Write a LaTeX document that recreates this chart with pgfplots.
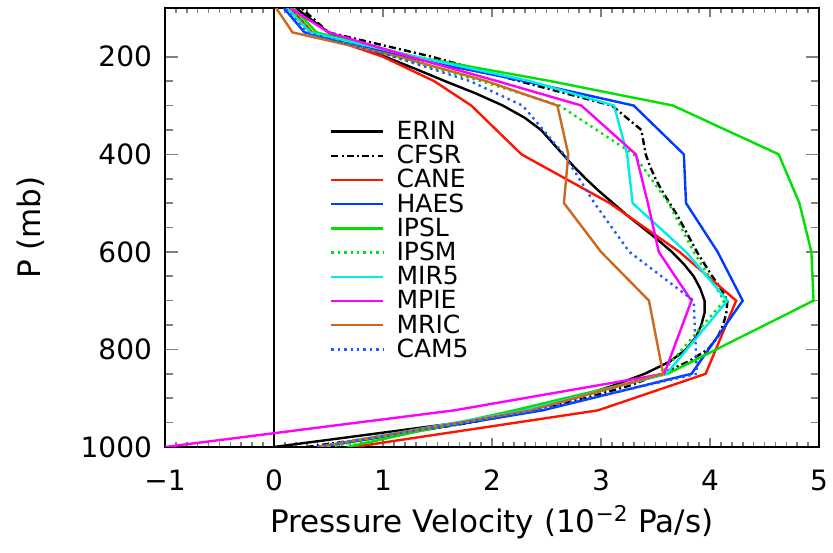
\documentclass[border=0pt]{standalone}
\usepackage{fontspec}
\setmainfont{DejaVu Sans}
\usepackage{pgfplots}
\pgfplotsset{compat=1.18}

\definecolor{cane}{RGB}{255,20,0}
\definecolor{haes}{RGB}{0,60,255}
\definecolor{ipsl}{RGB}{0,225,0}
\definecolor{mir5}{RGB}{0,235,235}
\definecolor{mpie}{RGB}{255,0,255}
\definecolor{mric}{RGB}{205,105,30}
\definecolor{cam5}{RGB}{30,90,255}

\begin{document}
\begin{tikzpicture}
\begin{axis}[
  scale only axis,
  width=327pt, height=219.5pt,
  xmin=-1, xmax=5, ymin=100, ymax=1000,
  y dir=reverse,
  xtick={-1,0,1,2,3,4,5},
  xticklabels={−1,0,1,2,3,4,5},
  ytick={200,400,600,800,1000},
  yticklabels={200,400,600,800,1000},
  minor x tick num=9, minor y tick num=3,
  tick align=inside,
  xtick style={/pgfplots/major tick length=4.5pt,/pgfplots/minor tick length=2.5pt,line width=0.8pt},
  ytick style={/pgfplots/major tick length=6.5pt,/pgfplots/minor tick length=4pt,line width=0.8pt},
  axis line style={line width=1pt},
  ticklabel style={font=\fontsize{14}{14}\selectfont},
  xticklabel style={yshift=-8pt},
  yticklabel style={xshift=-3pt},
  xlabel={Pressure Velocity (10\textsuperscript{−2} Pa/s)},
  ylabel={P (mb)},
  label style={font=\fontsize{15.5}{15.5}\selectfont},
  xlabel style={at={(axis description cs:0.5,-0.171)}, anchor=center},
  ylabel style={at={(axis description cs:-0.206,0.5)}, anchor=center},
  legend image code/.code={\draw[#1] (0pt,0pt) -- (26pt,0pt);},
  legend style={draw=none, fill=none, inner sep=0pt,
    at={(axis description cs:0.252,0.747)}, anchor=north west,
    font=\fontsize{12.5}{12.5}\selectfont,
    nodes={inner sep=1pt, text height=9pt, text depth=1.1pt},
    /tikz/every odd column/.append style={column sep=5pt}},
  legend cell align=left,
  every axis plot/.append style={line width=1.2pt},
]
\addplot[black, line width=0.9pt, forget plot] coordinates {(0,100) (0,1000)};

% ERIN
\addplot[black] coordinates {
(0.00,1000) (0.85,975) (1.70,950) (2.30,925) (2.75,900) (3.10,875) (3.40,850)
(3.63,825) (3.78,800) (3.87,775) (3.92,750) (3.95,725) (3.95,700) (3.91,675)
(3.85,650) (3.76,625) (3.65,600) (3.52,575) (3.38,550) (3.24,525) (3.11,500)
(2.98,475) (2.86,450) (2.75,425) (2.65,400) (2.55,375) (2.45,350) (2.30,325)
(2.10,300) (1.85,275) (1.57,250) (1.30,225) (1.02,200) (0.75,175) (0.50,150)
(0.35,125) (0.20,100)};
% CFSR
\addplot[black, dash pattern=on 3.5pt off 1.6pt on 1pt off 1.6pt] coordinates {
(0.30,1000) (1.10,975) (1.80,950) (2.40,925) (2.85,900) (3.25,875) (3.55,850)
(3.80,825) (3.98,800) (4.07,775) (4.12,750) (4.15,725) (4.16,700) (4.10,675)
(4.02,650) (3.95,625) (3.88,600) (3.82,575) (3.76,550) (3.70,525) (3.63,500)
(3.56,475) (3.50,450) (3.45,425) (3.41,400) (3.37,350) (3.10,300) (2.25,250)
(1.45,200) (0.50,150) (0.25,100)};
% CANE
\addplot[cane] coordinates {
(0.73,1000) (2.97,925) (3.96,850) (4.24,700) (3.72,600) (3.08,500) (2.27,400)
(1.81,300) (1.47,250) (1.00,200) (0.35,150) (0.15,100)};
% HAES
\addplot[haes] coordinates {
(0.43,1000) (2.46,925) (3.83,850) (4.30,700) (4.07,600) (3.78,500) (3.76,400)
(3.30,300) (2.30,250) (1.20,200) (0.28,150) (0.09,100)};
% IPSL
\addplot[ipsl] coordinates {
(0.67,1000) (2.20,925) (3.61,850) (4.95,700) (4.93,600) (4.82,500) (4.63,400)
(3.66,300) (2.54,250) (1.30,200) (0.39,150) (0.18,100)};
% IPSM
\addplot[ipsl, dash pattern=on 1.2pt off 2pt] coordinates {
(0.50,1000) (2.35,925) (3.55,850) (4.13,700) (3.85,600) (3.62,500) (3.30,400)
(2.62,300) (1.90,250) (1.10,200) (0.35,150) (0.15,100)};
% MIR5
\addplot[mir5] coordinates {
(0.40,1000) (2.30,925) (3.60,850) (4.16,700) (3.78,600) (3.29,500) (3.24,400)
(3.12,300) (2.35,250) (1.30,200) (0.33,150) (0.12,100)};
% MPIE
\addplot[mpie] coordinates {
(-1.00,1000) (1.65,925) (3.58,850) (3.83,700) (3.53,600) (3.43,500) (3.32,400)
(2.82,300) (2.05,250) (1.25,200) (0.50,150) (0.15,100)};
% MRIC
\addplot[mric] coordinates {
(0.40,1000) (2.35,925) (3.57,850) (3.44,700) (3.00,600) (2.66,500) (2.70,400)
(2.60,300) (1.95,250) (1.15,200) (0.17,150) (0.02,100)};
% CAM5
\addplot[cam5, dash pattern=on 1.2pt off 2pt] coordinates {
(0.40,1000) (2.40,925) (3.88,850) (3.85,700) (3.26,600) (2.94,500) (2.66,400)
(2.28,300) (1.80,250) (1.10,200) (0.30,150) (0.10,100)};

\legend{ERIN,CFSR,CANE,HAES,IPSL,IPSM,MIR5,MPIE,MRIC,CAM5}

\coordinate (bl) at (rel axis cs:0,0);
\coordinate (tr) at (rel axis cs:1,1);
\end{axis}
\pgfresetboundingbox
\path[use as bounding box] ([shift={(-82.5pt,-53pt)}]bl) rectangle ([shift={(7pt,4pt)}]tr);
\end{tikzpicture}
\end{document}
